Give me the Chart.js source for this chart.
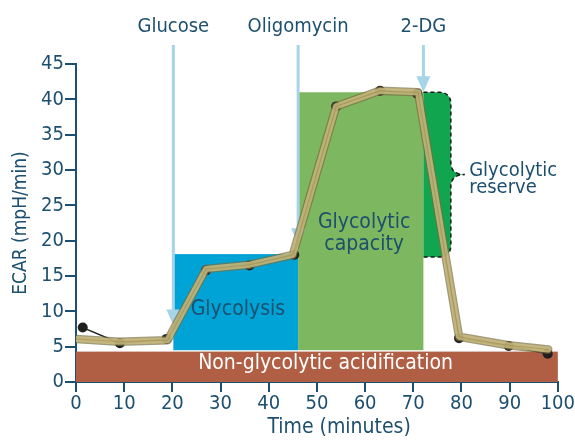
<!DOCTYPE html>
<html>
<head>
<meta charset="utf-8">
<script src="https://cdn.jsdelivr.net/npm/chart.js@4.4.1/dist/chart.umd.min.js"></script>
<style>
    html, body { margin: 0; padding: 0; background: #fff; }
</style>
</head>
<body>
<canvas id="ecarChart" width="575" height="441"></canvas>
<script>
"use strict";
// measured points (black dots)
const timePoints = [1.4, 9.1, 18.8, 27, 36, 45.3, 54, 63.1, 70.8, 79.5, 89.8, 97.9];
const ecarValues = [7.7, 5.5, 6.1, 15.8, 16.5, 18.0, 39.0, 41.2, 40.8, 6.2, 5.1, 4.0];
// smoothed trace (tan band)
const traceTimes = [0, 9, 19, 27, 36, 45, 54, 63, 71, 79.5, 89.7, 98];
const traceValues = [6.1, 5.7, 5.9, 16.0, 16.6, 18.0, 39.0, 41.2, 41.0, 6.4, 5.2, 4.6];

const injections = ['Glucose', 'Oligomycin', '2-DG'];
const injectionTimes = [20.2, 46.1, 72.1];
const arrowTips = [8, 19.5, 41];

// [start time, end time, low ECAR, high ECAR]
const nonGlycolytic = [0, 100, 0, 4.3];
const glycolysisBox = [20.2, 46.1, 4.5, 18.1];
const capacityBox = [46.1, 72.1, 4.5, 41.0];
const reserveBox = [72.1, 77.8, 17.7, 41.0];

const xTicks = [0, 10, 20, 30, 40, 50, 60, 70, 80, 90, 100];
const yTicks = [0, 5, 10, 15, 20, 25, 30, 35, 40, 45];

const navy = '#1d4f6e';
const fontFamily = "'Liberation Sans Narrow', 'DejaVu Sans Condensed', 'Roboto Condensed', sans-serif";

const points = timePoints.map((t, i) => ({ x: t, y: ecarValues[i] }));
const trace = traceTimes.map((t, i) => ({ x: t, y: traceValues[i] }));

function fillBox(ctx, x, y, box, color) {
    const left = x.getPixelForValue(box[0]);
    const right = x.getPixelForValue(box[1]);
    const top = y.getPixelForValue(box[3]);
    const bottom = y.getPixelForValue(box[2]);
    ctx.fillStyle = color;
    ctx.fillRect(left, top, right - left, bottom - top);
}

function writeText(ctx, text, px, py, size, color, align) {
    ctx.font = size + 'px ' + fontFamily;
    ctx.fillStyle = color;
    ctx.textAlign = align || 'center';
    ctx.textBaseline = 'middle';
    ctx.fillText(text, px, py);
}

function reservePath(ctx, l, r, t, b, closeLeft) {
    const mid = (t + b) / 2;
    const rad = 12;
    ctx.beginPath();
    ctx.moveTo(l, t);
    ctx.lineTo(r - rad, t);
    ctx.quadraticCurveTo(r, t, r, t + rad);
    ctx.lineTo(r, mid - 12);
    ctx.quadraticCurveTo(r, mid, r + 14, mid);
    ctx.quadraticCurveTo(r, mid, r, mid + 12);
    ctx.lineTo(r, b - rad);
    ctx.quadraticCurveTo(r, b, r - rad, b);
    ctx.lineTo(l, b);
    if (closeLeft) ctx.closePath();
}

const artwork = {
    id: 'artwork',
    beforeDatasetsDraw(chart) {
        const ctx = chart.ctx;
        const x = chart.scales.x;
        const y = chart.scales.y;
        ctx.save();
        fillBox(ctx, x, y, nonGlycolytic, '#b05e44');
        fillBox(ctx, x, y, glycolysisBox, '#00a3d6');
        fillBox(ctx, x, y, capacityBox, '#7db75f');

        // glycolytic reserve with brace shaped right edge
        const l = x.getPixelForValue(reserveBox[0]);
        const r = x.getPixelForValue(reserveBox[1]);
        const t = y.getPixelForValue(reserveBox[3]);
        const b = y.getPixelForValue(reserveBox[2]);
        reservePath(ctx, l, r, t, b, true);
        ctx.fillStyle = '#12a54f';
        ctx.fill();
        reservePath(ctx, l, r, t, b, false);
        ctx.setLineDash([4, 3]);
        ctx.lineWidth = 1.5;
        ctx.strokeStyle = '#1a1a1a';
        ctx.stroke();
        ctx.setLineDash([]);

        // injection lines with arrows
        injections.forEach((name, i) => {
            const px = x.getPixelForValue(injectionTimes[i]);
            const tip = y.getPixelForValue(arrowTips[i]);
            ctx.strokeStyle = '#a6d4e8';
            ctx.lineWidth = 3;
            ctx.beginPath();
            ctx.moveTo(px, 45);
            ctx.lineTo(px, tip - 12);
            ctx.stroke();
            ctx.fillStyle = '#a6d4e8';
            ctx.beginPath();
            ctx.moveTo(px - 7, tip - 16);
            ctx.lineTo(px + 7, tip - 16);
            ctx.lineTo(px, tip);
            ctx.closePath();
            ctx.fill();
            writeText(ctx, name, px, 27, 20, navy);
        });
        ctx.restore();
    },
    afterDatasetsDraw(chart) {
        const ctx = chart.ctx;
        const x = chart.scales.x;
        const y = chart.scales.y;
        ctx.save();
        writeText(ctx, 'Non-glycolytic acidification', x.getPixelForValue(51.8), y.getPixelForValue(2.6), 21, '#ffffff');
        writeText(ctx, 'Glycolysis', x.getPixelForValue(33.6), y.getPixelForValue(10.3), 21, navy);
        writeText(ctx, 'Glycolytic', x.getPixelForValue(59.8), y.getPixelForValue(22.5), 21, navy);
        writeText(ctx, 'capacity', x.getPixelForValue(59.8), y.getPixelForValue(19.4), 21, navy);
        writeText(ctx, 'Glycolytic', x.getPixelForValue(81.6), y.getPixelForValue(29.9), 20, navy, 'left');
        writeText(ctx, 'reserve', x.getPixelForValue(81.6), y.getPixelForValue(27.5), 20, navy, 'left');
        writeText(ctx, 'Time (minutes)', x.getPixelForValue(54.6), 428, 21, navy);
        ctx.restore();
    }
};

const bandStyle = { pointRadius: 0, tension: 0, borderJoinStyle: 'round', borderCapStyle: 'round' };

new Chart(document.getElementById('ecarChart'), {
    type: 'line',
    data: {
        datasets: [
            {
                data: points,
                borderColor: '#1f1f1f',
                borderWidth: 1.5,
                pointRadius: 5,
                pointBackgroundColor: '#1f1f1f',
                pointBorderWidth: 0,
                tension: 0,
                order: 4
            },
            Object.assign({ data: trace, borderColor: 'rgba(120, 110, 65, 0.7)', borderWidth: 8.5, order: 3 }, bandStyle),
            Object.assign({ data: trace, borderColor: 'rgba(205, 190, 128, 0.8)', borderWidth: 6, order: 2 }, bandStyle),
            Object.assign({ data: trace, borderColor: 'rgba(150, 135, 75, 0.5)', borderWidth: 1, order: 1 }, bandStyle)
        ]
    },
    options: {
        responsive: false,
        animation: false,
        events: [],
        layout: { padding: { top: 64, right: 16, left: 0, bottom: 0 } },
        plugins: { legend: { display: false }, tooltip: { enabled: false } },
        scales: {
            x: {
                type: 'linear',
                min: 0,
                max: 100,
                afterBuildTicks: (s) => { s.ticks = xTicks.map(v => ({ value: v })); },
                afterFit: (s) => { s.height = 59; },
                ticks: { color: navy, font: { family: fontFamily, size: 20 }, padding: 0, maxRotation: 0 },
                grid: { display: true, drawOnChartArea: false, drawTicks: true, tickLength: 10, color: navy, lineWidth: 2 },
                border: { display: true, color: navy, width: 2 }
            },
            y: {
                min: 0,
                max: 45,
                afterBuildTicks: (s) => { s.ticks = yTicks.map(v => ({ value: v })); },
                afterFit: (s) => { s.width = 76; },
                ticks: { color: navy, font: { family: fontFamily, size: 20 }, padding: 1 },
                grid: { display: true, drawOnChartArea: false, drawTicks: true, tickLength: 11, color: navy, lineWidth: 2 },
                border: { display: true, color: navy, width: 2 },
                title: { display: true, text: 'ECAR (mpH/min)', color: navy, font: { family: fontFamily, size: 19 }, padding: { top: 10, bottom: 0 } }
            }
        }
    },
    plugins: [artwork]
});
</script>
</body>
</html>
